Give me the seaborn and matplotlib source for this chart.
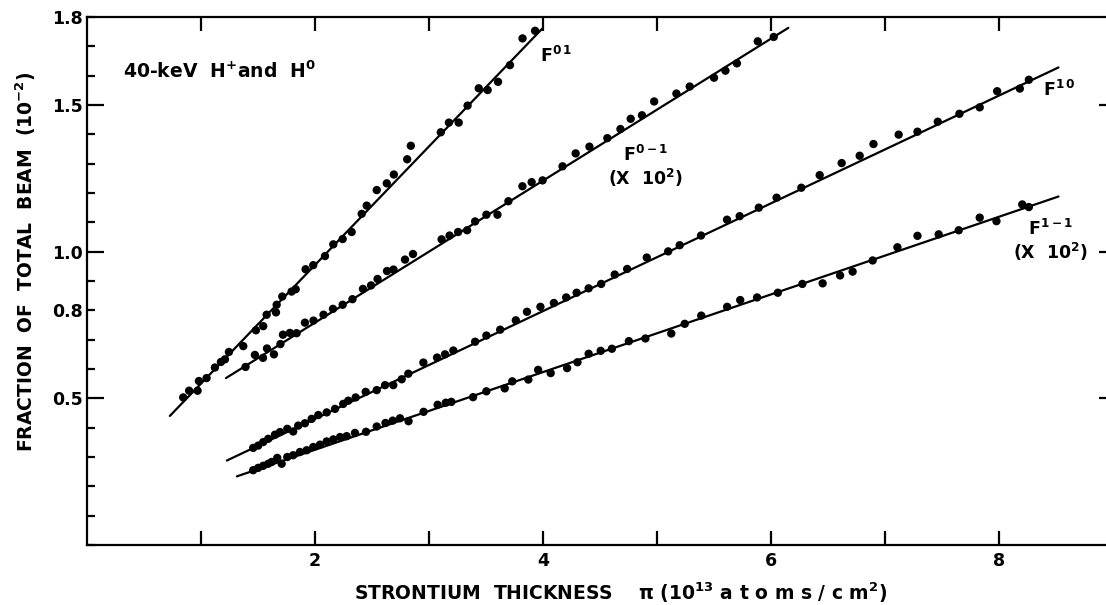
import numpy as np
import pandas as pd
import matplotlib
matplotlib.use("Agg")
import matplotlib.pyplot as plt
import seaborn as sns
from matplotlib.ticker import FixedLocator, FuncFormatter, MultipleLocator, NullFormatter, NullLocator

# ---------------- data ----------------
f01_x = [0.844, 0.896, 0.970, 0.982, 1.049, 1.122, 1.175, 1.210, 1.245, 1.371, 1.482, 1.546,
         1.576, 1.658, 1.664, 1.713, 1.795, 1.831, 1.918, 1.985, 2.088, 2.161, 2.243, 2.322,
         2.410, 2.454, 2.542, 2.630, 2.692, 2.809, 2.841, 3.104, 3.175, 3.261, 3.339, 3.437,
         3.515, 3.606, 3.711, 3.821, 3.931]
f01_y = [0.503, 0.526, 0.526, 0.559, 0.569, 0.605, 0.624, 0.633, 0.658, 0.678, 0.732, 0.746,
         0.785, 0.793, 0.819, 0.847, 0.864, 0.872, 0.940, 0.954, 0.985, 1.025, 1.043, 1.067,
         1.129, 1.157, 1.210, 1.233, 1.263, 1.315, 1.361, 1.407, 1.440, 1.440, 1.498, 1.557,
         1.551, 1.579, 1.636, 1.727, 1.753]

f0m1_x = [1.391, 1.473, 1.544, 1.579, 1.640, 1.697, 1.719, 1.780, 1.839, 1.912, 1.987, 2.075,
          2.158, 2.243, 2.329, 2.421, 2.492, 2.549, 2.632, 2.689, 2.790, 2.860, 3.111, 3.181,
          3.256, 3.335, 3.405, 3.504, 3.601, 3.697, 3.820, 3.901, 3.997, 4.172, 4.287, 4.408,
          4.565, 4.680, 4.770, 4.869, 4.976, 5.171, 5.288, 5.501, 5.601, 5.702, 5.885, 6.025]
f0m1_y = [0.607, 0.648, 0.638, 0.670, 0.650, 0.685, 0.717, 0.723, 0.722, 0.758, 0.765, 0.785,
          0.805, 0.819, 0.838, 0.873, 0.885, 0.907, 0.934, 0.939, 0.973, 0.992, 1.042, 1.055,
          1.067, 1.073, 1.103, 1.126, 1.126, 1.172, 1.223, 1.237, 1.243, 1.291, 1.335, 1.358,
          1.387, 1.418, 1.453, 1.465, 1.512, 1.539, 1.563, 1.593, 1.617, 1.642, 1.717, 1.732]

f10_x = [1.458, 1.502, 1.546, 1.590, 1.649, 1.693, 1.757, 1.809, 1.853, 1.912, 1.971, 2.029,
         2.103, 2.176, 2.248, 2.292, 2.357, 2.445, 2.542, 2.615, 2.687, 2.761, 2.819, 2.951,
         3.071, 3.141, 3.214, 3.405, 3.504, 3.625, 3.762, 3.860, 3.978, 4.096, 4.204, 4.296,
         4.401, 4.511, 4.630, 4.739, 4.911, 5.099, 5.200, 5.387, 5.615, 5.726, 5.894, 6.050,
         6.267, 6.428, 6.621, 6.779, 6.900, 7.121, 7.286, 7.464, 7.654, 7.832, 7.985, 8.184,
         8.263]
f10_y = [0.331, 0.339, 0.351, 0.362, 0.376, 0.385, 0.396, 0.387, 0.407, 0.415, 0.430, 0.443,
         0.452, 0.464, 0.481, 0.492, 0.503, 0.522, 0.528, 0.545, 0.545, 0.565, 0.584, 0.622,
         0.639, 0.650, 0.663, 0.693, 0.714, 0.734, 0.766, 0.795, 0.812, 0.825, 0.844, 0.860,
         0.875, 0.890, 0.922, 0.941, 0.980, 1.001, 1.022, 1.055, 1.109, 1.121, 1.150, 1.184,
         1.218, 1.261, 1.302, 1.327, 1.367, 1.399, 1.409, 1.443, 1.470, 1.492, 1.547, 1.556,
         1.586]

f1m1_x = [1.458, 1.502, 1.546, 1.590, 1.620, 1.669, 1.708, 1.757, 1.809, 1.868, 1.927, 1.985,
          2.044, 2.103, 2.161, 2.220, 2.278, 2.351, 2.448, 2.542, 2.619, 2.682, 2.746, 2.821,
          2.953, 3.076, 3.148, 3.197, 3.387, 3.504, 3.665, 3.731, 3.872, 3.958, 4.068, 4.212,
          4.303, 4.401, 4.507, 4.605, 4.754, 4.899, 5.126, 5.244, 5.389, 5.616, 5.731, 5.879,
          6.061, 6.276, 6.454, 6.607, 6.717, 6.893, 7.110, 7.286, 7.472, 7.648, 7.832, 7.979,
          8.205, 8.263]
f1m1_y = [0.255, 0.263, 0.270, 0.277, 0.283, 0.297, 0.277, 0.300, 0.306, 0.317, 0.323, 0.334,
          0.342, 0.353, 0.360, 0.368, 0.371, 0.382, 0.386, 0.404, 0.416, 0.424, 0.432, 0.422,
          0.454, 0.478, 0.485, 0.488, 0.504, 0.524, 0.534, 0.558, 0.564, 0.597, 0.586, 0.603,
          0.623, 0.652, 0.662, 0.669, 0.695, 0.704, 0.721, 0.754, 0.782, 0.812, 0.835, 0.844,
          0.860, 0.890, 0.892, 0.919, 0.932, 0.970, 1.015, 1.054, 1.059, 1.073, 1.116, 1.104,
          1.161, 1.152]

# fitted straight lines (end points)
fit01_x, fit01_y = [0.727, 3.993], [0.440, 1.760]
fit0m1_x, fit0m1_y = [1.219, 6.153], [0.569, 1.763]
fit10_x, fit10_y = [1.227, 8.523], [0.288, 1.628]
fit1m1_x, fit1m1_y = [1.315, 8.523], [0.234, 1.188]

ytick_major = [0.5, 1.0, 1.5]
ytick_extra_labels = [0.8, 1.8]
xtick_labeled = [2, 4, 6, 8]
xtick_unlabeled = [1, 3, 5, 7]

# ---------------- style ----------------
sns.set_style("ticks")
plt.rcParams["font.family"] = ["DejaVu Sans"]
plt.rcParams["font.weight"] = "bold"
plt.rcParams["text.color"] = "black"
plt.rcParams["axes.labelcolor"] = "black"
plt.rcParams["xtick.color"] = "black"
plt.rcParams["ytick.color"] = "black"
plt.rcParams["mathtext.fontset"] = "custom"
plt.rcParams["mathtext.rm"] = "DejaVu Sans:bold"
plt.rcParams["mathtext.it"] = "DejaVu Sans:bold"
plt.rcParams["mathtext.bf"] = "DejaVu Sans:bold"
plt.rcParams["mathtext.default"] = "rm"

fig = plt.figure(figsize=(11.06, 6.05), dpi=100)
ax = fig.add_axes([87 / 1106, 60 / 605, 1019 / 1106, 528 / 605])

series = [(f01_x, f01_y, fit01_x, fit01_y),
          (f0m1_x, f0m1_y, fit0m1_x, fit0m1_y),
          (f10_x, f10_y, fit10_x, fit10_y),
          (f1m1_x, f1m1_y, fit1m1_x, fit1m1_y)]
for px, py, lx, ly in series:
    sns.lineplot(x=lx, y=ly, color="black", linewidth=1.6, ax=ax)
    sns.scatterplot(x=px, y=py, color="black", s=36, edgecolor="none", ax=ax, zorder=3)

ax.set_xlim(0, 8.94)
ax.set_ylim(0, 1.8)

# spines
for side in ["left", "top", "bottom"]:
    ax.spines[side].set_visible(True)
    ax.spines[side].set_linewidth(1.6)
    ax.spines[side].set_color("black")
ax.spines["right"].set_visible(False)

# x ticks
ax.xaxis.set_major_locator(FixedLocator(xtick_labeled))
ax.xaxis.set_minor_locator(FixedLocator(xtick_unlabeled))
ax.xaxis.set_major_formatter(FuncFormatter(lambda v, p: f"{v:g}"))
ax.xaxis.set_minor_formatter(NullFormatter())
ax.tick_params(axis="x", which="both", direction="in", length=10, width=1.6,
               top=True, bottom=True, labelsize=12.5, pad=5, colors="black")

# y ticks (left)
ax.yaxis.set_major_locator(FixedLocator(ytick_major))
ax.yaxis.set_minor_locator(MultipleLocator(0.1))
ax.yaxis.set_major_formatter(FuncFormatter(lambda v, p: f"{v:.1f}"))
ax.yaxis.set_minor_formatter(FuncFormatter(
    lambda v, p: f"{v:.1f}" if any(abs(v - t) < 1e-6 for t in ytick_extra_labels) else ""))
ax.tick_params(axis="y", which="major", direction="in", length=12, width=1.6,
               left=True, right=False, labelsize=12.5, pad=3, colors="black")
ax.tick_params(axis="y", which="minor", direction="in", length=6, width=1.6,
               left=True, right=False, labelsize=12.5, pad=3, colors="black")

# short ticks on the right edge
axr = ax.twinx()
axr.set_ylim(ax.get_ylim())
axr.yaxis.set_major_locator(FixedLocator(ytick_major))
axr.yaxis.set_minor_locator(NullLocator())
axr.tick_params(axis="y", which="major", direction="in", length=5, width=1.6,
                right=True, left=False, labelright=False, colors="black")
for s in axr.spines.values():
    s.set_visible(False)
axr.grid(False)

# labels
ylab = ax.set_ylabel("FRACTION  OF  TOTAL  BEAM  (10$^{-2}$)", fontsize=13.5,
                     fontweight="bold", color="black")
ylab.set_va("center")
ax.yaxis.set_label_coords(-(87 - 26) / 1019, (545 - 262) / 528)

xlab = ax.set_xlabel("STRONTIUM  THICKNESS    π (10$^{13}$ a t o m s / c m$^{2}$)",
                     fontsize=13.5, fontweight="bold", color="black")
xlab.set_va("center")
ax.xaxis.set_label_coords((621 - 87) / 1019, -(593 - 545) / 528)

# annotations
ax.text(0.314, 1.614, "40-keV  H$^{+}$and  H$^{0}$", fontsize=13.5, fontweight="bold",
        ha="left", va="center")
ax.text(3.975, 1.668, "F$^{0\\,1}$", fontsize=12.5, fontweight="bold", ha="left", va="center")
ax.text(4.90, 1.289, "F$^{0-1}$\n(X  10$^{2}$)", fontsize=12.5, fontweight="bold",
        ha="center", va="center", linespacing=1.1)
ax.text(8.383, 1.550, "F$^{1\\,0}$", fontsize=12.5, fontweight="bold", ha="left", va="center")
ax.text(8.45, 1.035, "F$^{1-1}$\n(X  10$^{2}$)", fontsize=12.5, fontweight="bold",
        ha="center", va="center", linespacing=1.1)

fig.savefig("out.png", dpi=100)
